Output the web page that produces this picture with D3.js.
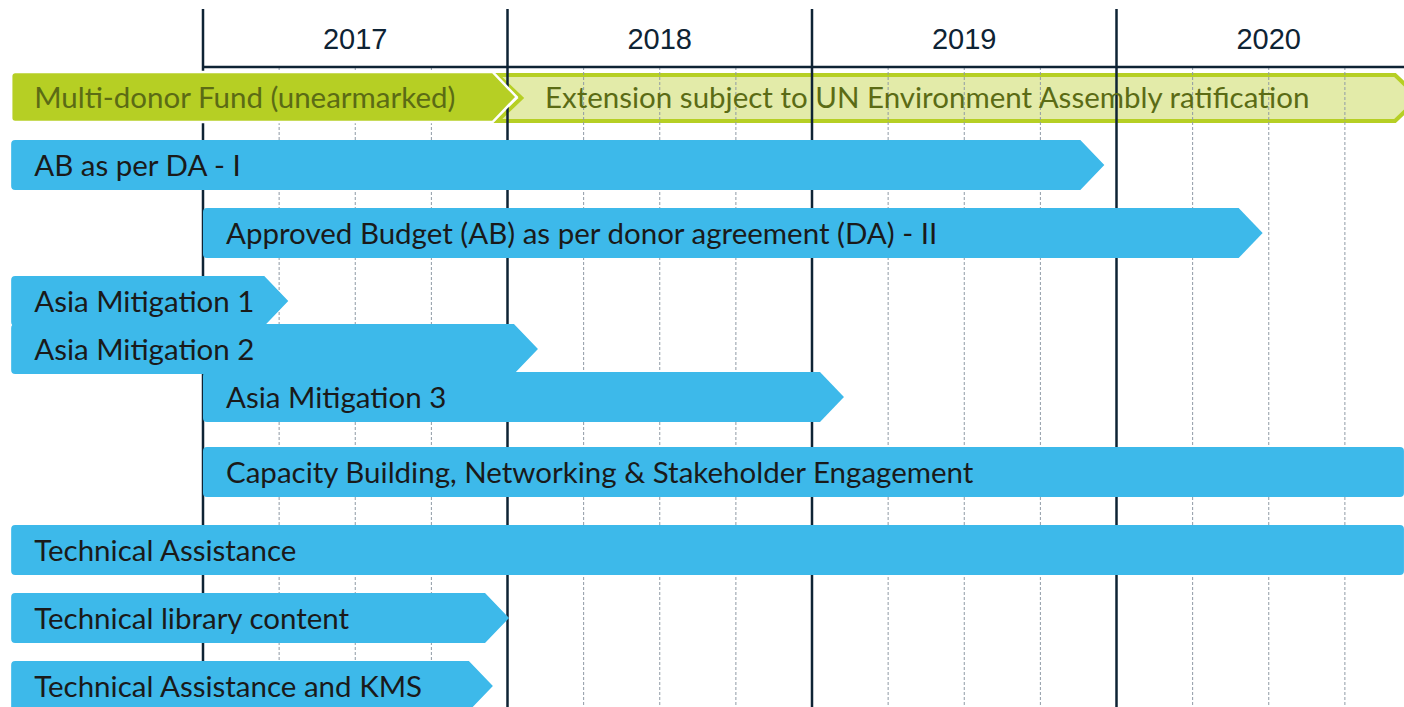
<!DOCTYPE html>
<html lang="en">
<head>
<meta charset="UTF-8">
<title>Programme timeline 2017-2020</title>
<script src="https://d3js.org/d3.v7.min.js"></script>
<style>
  html, body { margin: 0; padding: 0; background: #fff; overflow: hidden; }
</style>
</head>
<body>
<svg id="canvas" width="1404" height="707"></svg>
<script>
// ---- data (dates as decimal years) ----
const years = [2017, 2018, 2019, 2020];

const fundLabel = "Multi-donor Fund (unearmarked)";
const fundStart = 2016.37;
const fundEnd = 2018.03;

const extLabel = "Extension subject to UN Environment Assembly ratification";
const extStart = 2017.96;
const extEnd = 2021.0;

const tasks = [
  "AB as per DA - I",
  "Approved Budget (AB) as per donor agreement (DA) - II",
  "Asia Mitigation 1",
  "Asia Mitigation 2",
  "Asia Mitigation 3",
  "Capacity Building, Networking & Stakeholder Engagement",
  "Technical Assistance",
  "Technical library content",
  "Technical Assistance and KMS"
];
const taskStart = [2016.37, 2017.0, 2016.37, 2016.37, 2017.0, 2017.0, 2016.37, 2016.37, 2016.37];
const taskEnd   = [2019.96, 2020.48, 2017.28, 2018.10, 2019.105, 2020.944, 2020.944, 2018.005, 2017.952];
// tasks that run on past the visible period (no arrow tip)
const ongoing = ["Capacity Building, Networking & Stakeholder Engagement", "Technical Assistance"];

// ---- layout ----
const width = 1404, height = 707;
const svg = d3.select("#canvas");

const x = d3.scaleLinear().domain([2017, 2021]).range([203, 1421]);
const rowY = d3.scaleOrdinal()
  .domain(["fund"].concat(tasks))
  .range([72, 140, 208, 276, 324, 372, 447, 525, 593, 661]);
const barH = 50;
const tip = 24;

const blue = "#3db9ea";
const green = "#b6cf24";
const lightGreen = "#e3eba9";
const navy = "#0e2334";
const labelFont = "Lato, 'Noto Sans', sans-serif";

// label font size fitted so the longest label matches the original width
const probe = svg.append("text").attr("font-family", labelFont).attr("font-size", 100)
  .text(tasks[5]);
const fs = Math.round(100 * 748 / probe.node().getComputedTextLength() * 10) / 10;
probe.remove();

function barPath(x0, x1, y, h, arrow, notch) {
  const p = d3.path();
  const r = 4;
  if (notch) {
    p.moveTo(x0, y);
  } else {
    p.moveTo(x0 + r, y);
  }
  if (arrow) {
    p.lineTo(x1 - tip, y);
    p.lineTo(x1, y + h / 2);
    p.lineTo(x1 - tip, y + h);
  } else {
    p.lineTo(x1 - r, y);
    p.arcTo(x1, y, x1, y + r, r);
    p.lineTo(x1, y + h - r);
    p.arcTo(x1, y + h, x1 - r, y + h, r);
  }
  if (notch) {
    p.lineTo(x0, y + h);
    p.lineTo(x0 + tip, y + h / 2);
    p.closePath();
  } else {
    p.lineTo(x0 + r, y + h);
    p.arcTo(x0, y + h, x0, y + h - r, r);
    p.lineTo(x0, y + r);
    p.arcTo(x0, y, x0 + r, y, r);
    p.closePath();
  }
  return p.toString();
}

// extension bar (sits under the grid)
svg.append("path")
  .attr("d", barPath(x(extStart) + 2, x(extEnd) - 2, rowY("fund") + 3, barH - 4, true, true))
  .attr("fill", lightGreen)
  .attr("stroke", green)
  .attr("stroke-width", 4)
  .attr("stroke-linejoin", "miter");

// quarter grid
const quarters = d3.range(2017, 2021, 0.25).filter(q => q % 1 !== 0);
svg.append("g").selectAll("line")
  .data(quarters)
  .join("line")
  .attr("x1", d => x(d)).attr("x2", d => x(d))
  .attr("y1", 67).attr("y2", height)
  .attr("stroke", "#8f9aa5")
  .attr("stroke-width", 1)
  .attr("stroke-dasharray", "3,2");

// year lines + header line
svg.append("g").selectAll("line")
  .data(years.concat([2021]))
  .join("line")
  .attr("x1", d => x(d)).attr("x2", d => x(d))
  .attr("y1", 9).attr("y2", height)
  .attr("stroke", navy)
  .attr("stroke-width", 2.5);

svg.append("line")
  .attr("x1", x(2017)).attr("x2", width)
  .attr("y1", 67).attr("y2", 67)
  .attr("stroke", navy)
  .attr("stroke-width", 2.5);

svg.append("g").selectAll("text")
  .data(years)
  .join("text")
  .attr("x", d => x(d + 0.5))
  .attr("y", 49)
  .attr("text-anchor", "middle")
  .attr("font-family", "'Liberation Sans', Arial, sans-serif")
  .attr("font-size", 29)
  .attr("fill", navy)
  .text(d => d);

// extension label
svg.append("text")
  .attr("x", 545)
  .attr("y", rowY("fund") + barH / 2 + fs * 0.36)
  .attr("font-family", labelFont)
  .attr("font-size", fs)
  .attr("fill", "#5b6b15")
  .text(extLabel);

// multi-donor fund arrow
svg.append("path")
  .attr("d", barPath(x(fundStart), x(fundEnd), rowY("fund"), barH, true, false))
  .attr("fill", green)
  .attr("stroke", "#fff")
  .attr("stroke-width", 2.5);

svg.append("text")
  .attr("x", x(fundStart) + 23)
  .attr("y", rowY("fund") + barH / 2 + fs * 0.36)
  .attr("font-family", labelFont)
  .attr("font-size", fs)
  .attr("fill", "#5b6b15")
  .text(fundLabel);

// task bars
const bars = svg.append("g").selectAll("g")
  .data(tasks)
  .join("g");

bars.append("path")
  .attr("d", (d, i) => barPath(x(taskStart[i]), x(taskEnd[i]), rowY(d), barH, !ongoing.includes(d), false))
  .attr("fill", blue);

bars.append("text")
  .attr("x", (d, i) => x(taskStart[i]) + 23)
  .attr("y", d => rowY(d) + barH / 2 + fs * 0.36)
  .attr("font-family", labelFont)
  .attr("font-size", fs)
  .attr("fill", "#1a1a1a")
  .text(d => d);
</script>
</body>
</html>
